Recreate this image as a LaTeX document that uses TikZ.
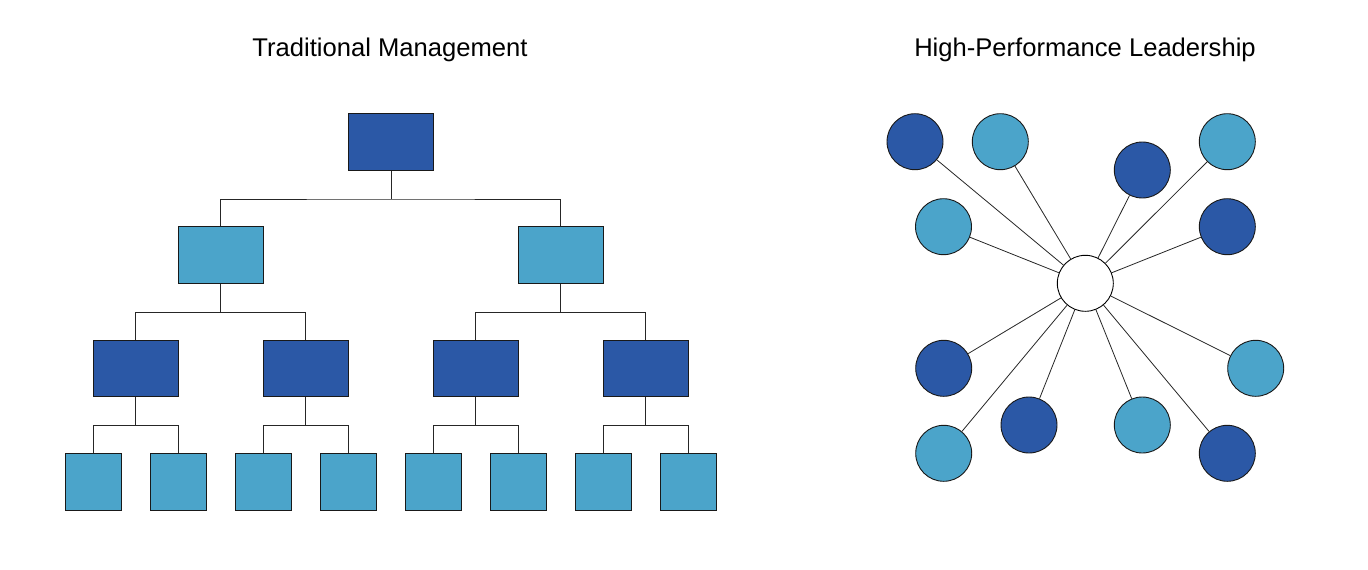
\documentclass[tikz,border=0pt]{standalone}
\usepackage{fontspec}
\setmainfont{Liberation Sans}
\begin{document}
\begin{tikzpicture}[x=1pt,y=-1pt,
  conn/.style={draw=black!85,line width=0.8pt},
  dk/.style={fill=darkblue,draw=black!90,line width=0.9pt},
  lt/.style={fill=lightblue,draw=black!90,line width=0.9pt},
  rbox/.style={rectangle,minimum width=85pt,minimum height=56.7pt,inner sep=0pt},
  sbox/.style={rectangle,minimum width=56.7pt,minimum height=56.7pt,inner sep=0pt},
  circ/.style={circle,minimum size=56pt,inner sep=0pt},
  ttl/.style={font=\fontsize{25.6}{30}\selectfont,anchor=base}]
\definecolor{darkblue}{HTML}{2B58A6}
\definecolor{lightblue}{HTML}{4BA4CA}
\path[use as bounding box] (0,0) rectangle (1368,570);
% titles
\node[ttl] (t1) at (390,56.7) {Traditional Management};
\node[ttl] (t2) at (1085,56.7) {High-Performance Leadership};
% tree
\node[rbox,dk] (r) at (391,141.7) {};
\node[rbox,lt] (a) at (220.8,255) {};
\node[rbox,lt] (b) at (560.8,255) {};
\node[rbox,dk] (a1) at (135.8,368.3) {};
\node[rbox,dk] (a2) at (305.8,368.3) {};
\node[rbox,dk] (b1) at (475.8,368.3) {};
\node[rbox,dk] (b2) at (645.8,368.3) {};
\foreach \n/\x in {a1l/93.3,a1r/178.3,a2l/263.3,a2r/348.3,b1l/433.3,b1r/518.3,b2l/603.3,b2r/688.3}
  \node[sbox,lt] (\n) at (\x,481.7) {};
% connectors
\draw[conn] (r.south) |- ++(0,28.5) coordinate (rm);
\draw[conn] (a.north) |- (rm) -| (b.north);
\foreach \p/\l/\rr in {a/a1/a2,b/b1/b2,a1/a1l/a1r,a2/a2l/a2r,b1/b1l/b1r,b2/b2l/b2r}{
  \draw[conn] (\p.south) -- ++(0,28.5) coordinate (m);
  \draw[conn] (\l.north) |- (m) -| (\rr.north);
}
% star
\node[circ,draw=black,line width=0.9pt,fill=white] (c) at (1085.3,283.3) {};
\foreach \n/\x/\y/\s in {
  o1/915/141.7/dk, o2/1000.3/141.7/lt, o3/1142.3/170/dk, o4/1227.3/141.7/lt,
  o5/943.5/226.7/lt, o6/1227.3/226.7/dk, o7/943.7/368.3/dk, o8/1255.7/368.3/lt,
  o9/943.7/453.3/lt, o10/1029/425/dk, o11/1142.3/425/lt, o12/1227.3/453.3/dk}{
  \node[circ,\s] (\n) at (\x,\y) {};
  \draw[conn] (c) -- (\n);
}
\end{tikzpicture}
\end{document}
